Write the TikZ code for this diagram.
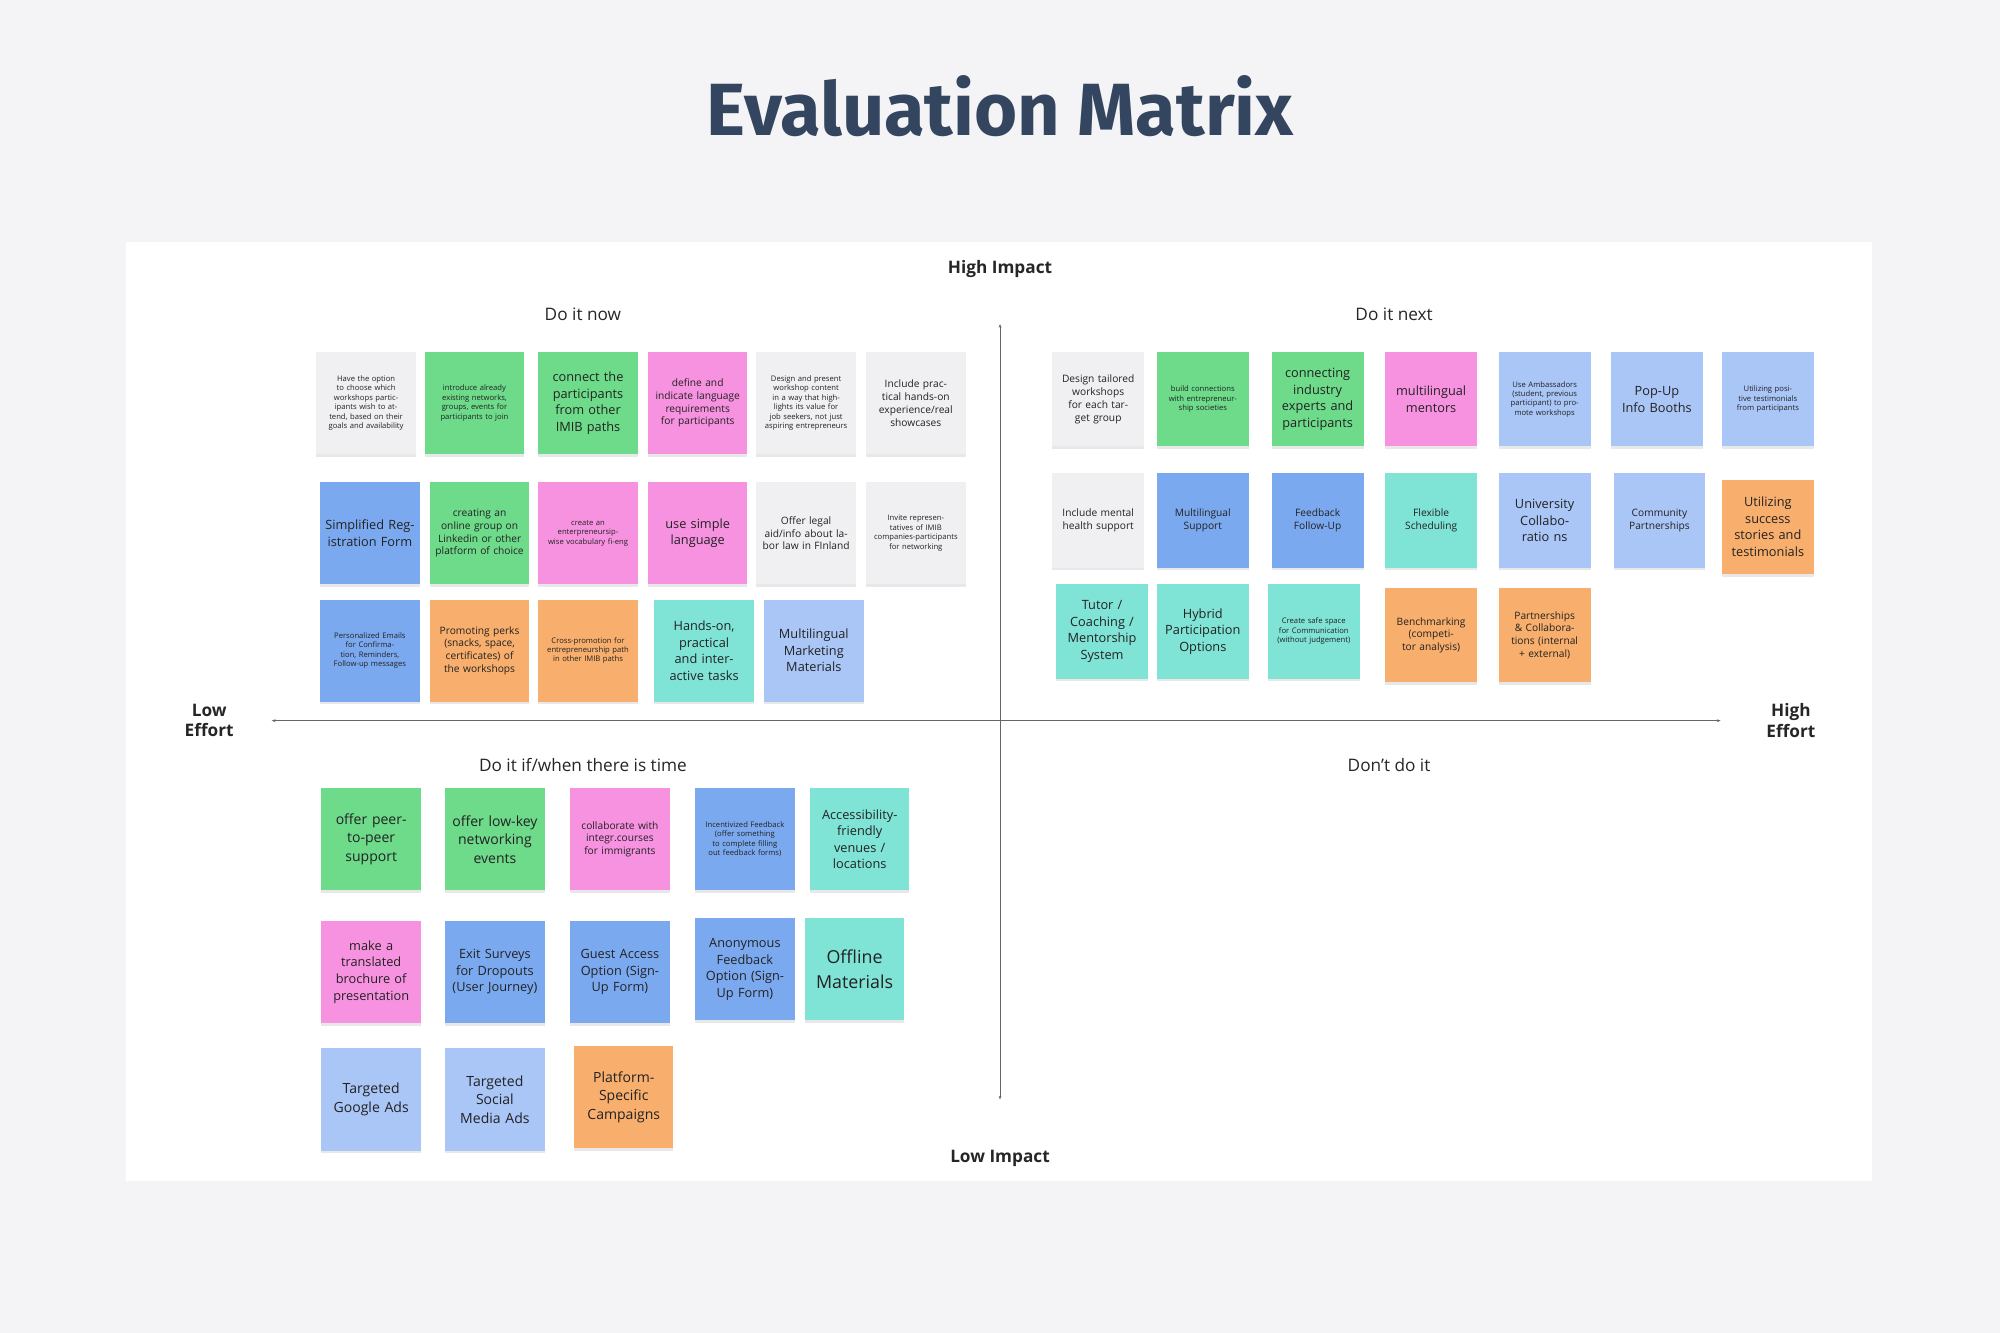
\documentclass[tikz,border=0pt]{standalone}
\usepackage{fontspec}
\setmainfont{Open Sans}
\newfontfamily\titlefont{Fira Sans}
\usetikzlibrary{shadows,arrows.meta}
\definecolor{bg}{HTML}{F4F4F6}
\definecolor{ttl}{HTML}{34465F}
\definecolor{cwh}{HTML}{F0F0F2}
\definecolor{cgr}{HTML}{6DDB8A}
\definecolor{cpk}{HTML}{F792E0}
\definecolor{cbl}{HTML}{7BA9F0}
\definecolor{clb}{HTML}{A9C6F7}
\definecolor{cor}{HTML}{F8AE6C}
\definecolor{ctl}{HTML}{7FE3D6}
\definecolor{txt}{HTML}{222222}
\tikzset{x=1pt,y=-1pt,
 note/.style={rectangle,minimum width=78pt,minimum height=80pt,text width=70pt,align=center,inner sep=2pt,text=txt,
  drop shadow={opacity=0.18,shadow xshift=0pt,shadow yshift=-2pt}},
 sm/.style={note,minimum width=72pt,minimum height=74pt,text width=66pt},
 f1/.style={font=\fontsize{6}{7.4}\selectfont},
 f2/.style={font=\fontsize{8}{10}\selectfont},
 f3/.style={font=\fontsize{10}{13}\selectfont},
 f4/.style={font=\fontsize{11}{14.5}\selectfont},
 f5/.style={font=\fontsize{14}{20}\selectfont},
 qt/.style={font=\fontsize{13.5}{16}\selectfont,text=black!85},
 ax/.style={font=\bfseries\fontsize{13.5}{16}\selectfont,text=black!85,align=center},
}
\begin{document}
\begin{tikzpicture}
\fill[bg] (0,0) rectangle (1568,1045);
\useasboundingbox (0,0) rectangle (1568,1045);
\node[font=\titlefont\bfseries\fontsize{58}{60}\selectfont,text=ttl] (title) at (784,83) {Evaluation Matrix};
\fill[white] (99,190) rectangle (1468,926);
\coordinate (vt) at (784,254); \coordinate (vb) at (784,862);
\coordinate (hl) at (213,565); \coordinate (hr) at (1349,565);
\draw[black!60,line width=0.8pt,{Stealth[length=3pt]}-{Stealth[length=3pt]}] (vt) -- (vb);
\draw[black!60,line width=0.8pt,{Stealth[length=3pt]}-{Stealth[length=3pt]}] (hl) -- (hr);
\node[ax] (hi) at (784,211) {High Impact};
\node[ax] (lo) at (784,908) {Low Impact};
\node[ax] (le) at (164,565) {Low\\Effort};
\node[ax] (he) at (1404,565) {High\\Effort};
\node[qt] (q1) at (457,246) {Do it now};
\node[qt] (q2) at (1093,246) {Do it next};
\node[qt] (q3) at (457,600) {Do it if/when there is time};
\node[qt] (q4) at (1089,600) {Don't do it};
% Do it now
\node[note,fill=cwh,f1] (a1) at (287,316) {Have the option to choose which workshops participants wish to attend, based on their goals and availability};
\node[note,fill=cgr,f1] (a2) at (372,316) {introduce already existing networks, groups, events for participants to join};
\node[note,fill=cgr,f3] (a3) at (461,316) {connect the participants from other IMIB paths};
\node[note,fill=cpk,f2] (a4) at (547,316) {define and indicate language requirements for participants};
\node[note,fill=cwh,f1] (a5) at (632,316) {Design and present workshop content in a way that highlights its value for job seekers, not just aspiring entrepreneurs};
\node[note,fill=cwh,f2] (a6) at (718,316) {Include practical hands-on experience/real showcases};
\node[note,fill=cbl,f3] (b1) at (290,418) {Simplified Registration Form};
\node[note,fill=cgr,f2] (b2) at (376,418) {creating an online group on Linkedin or other platform of choice};
\node[note,fill=cpk,f1] (b3) at (461,418) {create an enterpreneursip-wise vocabulary fi-eng};
\node[note,fill=cpk,f3] (b4) at (547,418) {use simple language};
\node[note,fill=cwh,f2] (b5) at (632,418) {Offer legal aid/info about labor law in FInland};
\node[note,fill=cwh,f1] (b6) at (718,418) {Invite representatives of IMIB companies-participants for networking};
\node[note,fill=cbl,f1] (c1) at (290,510) {Personalized Emails for Confirmation, Reminders, Follow-up messages};
\node[note,fill=cor,f2] (c2) at (376,510) {Promoting perks (snacks, space, certificates) of the workshops};
\node[note,fill=cor,f1] (c3) at (461,510) {Cross-promotion for entrepreneurship path in other IMIB paths};
\node[note,fill=ctl,f3] (c4) at (552,510) {Hands-on, practical and interactive tasks};
\node[note,fill=clb,f3] (c5) at (638,510) {Multilingual Marketing Materials};
% Do it next
\node[sm,fill=cwh,f2] (d1) at (861,313) {Design tailored workshops for each target group};
\node[sm,fill=cgr,f1] (d2) at (943,313) {build connections with entrepreneurship societies};
\node[sm,fill=cgr,f3] (d3) at (1033,313) {connecting industry experts and participants};
\node[sm,fill=cpk,f3] (d4) at (1122,313) {multilingual mentors};
\node[sm,fill=clb,f1] (d5) at (1211,313) {Use Ambassadors (student, previous participant) to promote workshops};
\node[sm,fill=clb,f3] (d6) at (1299,313) {Pop-Up Info Booths};
\node[sm,fill=clb,f1] (d7) at (1386,313) {Utilizing positive testimonials from participants};
\node[sm,fill=cwh,f2] (e1) at (861,408) {Include mental health support};
\node[sm,fill=cbl,f2] (e2) at (943,408) {Multilingual Support};
\node[sm,fill=cbl,f2] (e3) at (1033,408) {Feedback Follow-Up};
\node[sm,fill=ctl,f2] (e4) at (1122,408) {Flexible Scheduling};
\node[sm,fill=clb,f3] (e5) at (1211,408) {University Collaboratio ns};
\node[sm,fill=clb,f2] (e6) at (1301,408) {Community Partnerships};
\node[sm,fill=cor,f3] (e7) at (1386,413) {Utilizing success stories and testimonials};
\node[sm,fill=ctl,f3] (g1) at (864,495) {Tutor / Coaching / Mentorship System};
\node[sm,fill=ctl,f3] (g2) at (943,495) {Hybrid Participation Options};
\node[sm,fill=ctl,f1] (g3) at (1030,495) {Create safe space for Communication (without judgement)};
\node[sm,fill=cor,f2] (g4) at (1122,498) {Benchmarking (competitor analysis)};
\node[sm,fill=cor,f2] (g5) at (1211,498) {Partnerships \& Collaborations (internal + external)};
% Do it if/when
\node[note,fill=cgr,f4] (h1) at (291,658) {offer peer-to-peer support};
\node[note,fill=cgr,f4] (h2) at (388,658) {offer low-key networking events};
\node[note,fill=cpk,f2] (h3) at (486,658) {collaborate with integr.courses for immigrants};
\node[note,fill=cbl,f1] (h4) at (584,658) {Incentivized Feedback (offer something to complete filling out feedback forms)};
\node[note,fill=ctl,f3] (h5) at (674,658) {Accessibility-friendly venues / locations};
\node[note,fill=cpk,f3] (i1) at (291,762) {make a translated brochure of presentation};
\node[note,fill=cbl,f3] (i2) at (388,762) {Exit Surveys for Dropouts (User Journey)};
\node[note,fill=cbl,f3] (i3) at (486,762) {Guest Access Option (Sign-Up Form)};
\node[note,fill=cbl,f3] (i4) at (584,760) {Anonymous Feedback Option (Sign-Up Form)};
\node[note,fill=ctl,f5] (i5) at (670,760) {Offline Materials};
\node[note,fill=clb,f4] (j1) at (291,862) {Targeted Google Ads};
\node[note,fill=clb,f4] (j2) at (388,862) {Targeted Social Media Ads};
\node[note,fill=cor,f4] (j3) at (489,860) {Platform-Specific Campaigns};
\end{tikzpicture}
\end{document}
